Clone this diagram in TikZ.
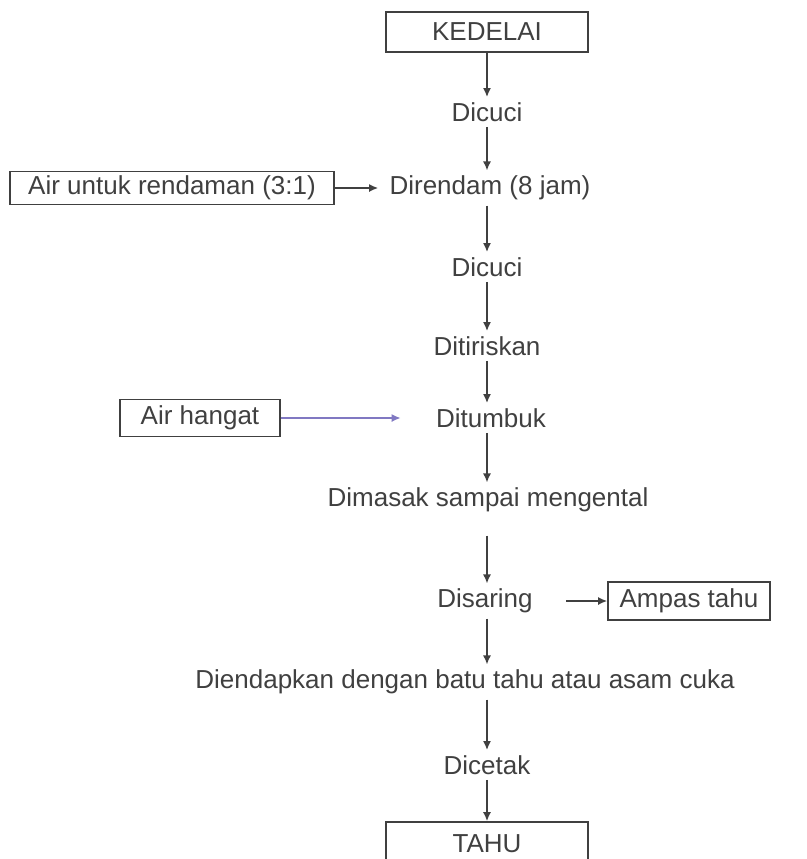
\documentclass[tikz,border=0pt]{standalone}
\usepackage{fontspec}
\setmainfont{Liberation Sans}
\usetikzlibrary{arrows.meta}
\definecolor{ink}{rgb}{0.25,0.25,0.25}
\definecolor{lilac}{rgb}{0.50,0.47,0.76}
\begin{document}
\begin{tikzpicture}[x=0.5pt,y=-0.5pt,
    font=\fontsize{13pt}{15pt}\selectfont, text=ink,
    every node/.style={inner sep=2.5pt},
    kotak/.style={draw=ink,line width=0.8pt,inner sep=0pt},
    panah/.style={draw=ink,line width=0.8pt,-{Latex[length=4.5pt,width=4pt]}}]
  \useasboundingbox (0,0) rectangle (807,859);
  \draw
    (487,32) node[kotak,minimum width=101pt,minimum height=20pt] (kedelai){KEDELAI}
    (487,112) node (cuci1){Dicuci}
    (490,188) node (rendam){Direndam (8 jam)}
    (487,267) node (cuci2){Dicuci}
    (487,346) node (tiris){Ditiriskan}
    (491,418) node (tumbuk){Ditumbuk}
    (488,500) node (masak){Dimasak sampai mengental}
    (485,601) node (saring){Disaring}
    (465,682) node (endap){Diendapkan dengan batu tahu atau asam cuka}
    (487,765) node (cetak){Dicetak}
    (487,852) node[kotak,minimum width=101pt,minimum height=30pt,text depth=8pt] (tahu){TAHU};
  \draw
    (172,188) node[kotak,minimum width=162pt,minimum height=16.5pt] (airrendam){Air untuk rendaman (3:1)}
    (200,418) node[kotak,minimum width=80pt,minimum height=18.5pt] (airhangat){Air hangat}
    (689,601) node[kotak,minimum width=81pt,minimum height=19pt] (ampas){Ampas tahu};
  \begin{scope}[panah]
    \draw (kedelai.south) to (cuci1.north -| kedelai);
    \draw (cuci1.south -| kedelai) to (rendam.north -| kedelai);
    \draw (rendam.south -| kedelai) to (cuci2.north -| kedelai);
    \draw (cuci2.south -| kedelai) to (tiris.north -| kedelai);
    \draw (tiris.south -| kedelai) to (tumbuk.north -| kedelai);
    \draw (tumbuk.south -| kedelai) to (masak.north -| kedelai);
    \draw[shorten <=9pt] (masak.south -| kedelai) to (saring.north -| kedelai);
    \draw (saring.south -| kedelai) to (endap.north -| kedelai);
    \draw (endap.south -| kedelai) to (cetak.north -| kedelai);
    \draw (cetak.south -| kedelai) to (tahu.north);
    \draw[shorten >=3pt] (airrendam.east) to (rendam.west);
    \draw[draw=lilac,shorten >=15pt] (airhangat.east) to (tumbuk.west);
    \draw[shorten <=14pt] (saring.east) to (saring.east -| ampas.west);
  \end{scope}
\end{tikzpicture}
\end{document}
